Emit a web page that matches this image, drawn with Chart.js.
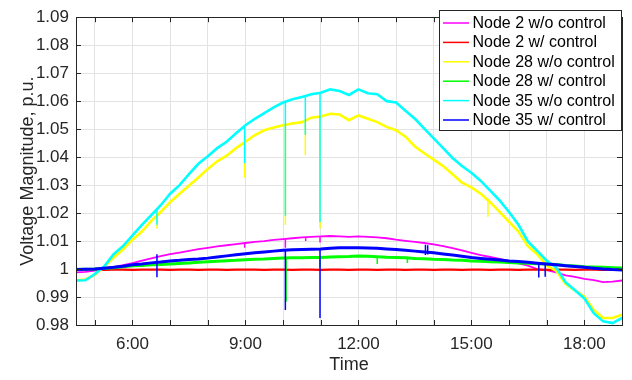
<!DOCTYPE html>
<html>
<head>
<meta charset="utf-8">
<script src="https://cdn.jsdelivr.net/npm/chart.js@4.4.1/dist/chart.umd.min.js"></script>
<style>
  html, body { margin: 0; padding: 0; background: #fff; }
  #wrap { width: 632px; height: 380px; position: relative; }
</style>
</head>
<body>
<div id="wrap"><canvas id="chart"></canvas></div>
<script>
// time of day in hours, every 15 minutes from 4:30 to 19:00
const hours = [
  4.5, 4.75, 5, 5.25, 5.5, 5.75, 6, 6.25, 6.5, 6.75, 7, 7.25, 7.5, 7.75, 8, 8.25, 8.5, 8.75,
  9, 9.25, 9.5, 9.75, 10, 10.25, 10.5, 10.75, 11, 11.25, 11.5, 11.75, 12, 12.25, 12.5, 12.75,
  13, 13.25, 13.5, 13.75, 14, 14.25, 14.5, 14.75, 15, 15.25, 15.5, 15.75, 16, 16.25, 16.5, 16.75,
  17, 17.25, 17.5, 17.75, 18, 18.25, 18.5, 18.75, 19
]

const node2NoCtrl = [
  0.9988, 0.9990, 0.9994, 1.0000, 1.0007, 1.0014, 1.0021, 1.0030, 1.0038, 1.0046, 1.0053, 1.0059,
  1.0065, 1.0071, 1.0076, 1.0081, 1.0085, 1.0089, 1.0093, 1.0097, 1.0100, 1.0104, 1.0107, 1.0110,
  1.0113, 1.0115, 1.0117, 1.0118, 1.0117, 1.0115, 1.0117, 1.0115, 1.0113, 1.0110, 1.0105, 1.0101,
  1.0097, 1.0093, 1.0088, 1.0082, 1.0075, 1.0067, 1.0058, 1.0050, 1.0043, 1.0036, 1.0029, 1.0020,
  1.0012, 1.0000, 0.9996, 0.9988, 0.9977, 0.9972, 0.9965, 0.9960, 0.9953, 0.9955, 0.9959
]
const node2Ctrl = [
  0.9998, 0.9998, 0.9998, 0.9997, 0.9998, 0.9998, 0.9997, 0.9998, 0.9998, 0.9998, 0.9997, 0.9998,
  0.9998, 0.9997, 0.9998, 0.9998, 0.9997, 0.9998, 0.9998, 0.9998, 0.9997, 0.9998, 0.9998, 0.9997,
  0.9998, 0.9998, 0.9997, 0.9998, 0.9998, 0.9997, 0.9998, 0.9998, 0.9997, 0.9998, 0.9998, 0.9997,
  0.9998, 0.9998, 0.9997, 0.9998, 0.9998, 0.9997, 0.9998, 0.9998, 0.9997, 0.9998, 0.9998, 0.9997,
  0.9998, 0.9998, 0.9997, 0.9998, 0.9998, 0.9997, 0.9998, 0.9998, 0.9997, 0.9998, 0.9998
]
const node28NoCtrl = [
  0.9960, 0.9962, 0.9980, 1.0008, 1.0041, 1.0070, 1.0105, 1.0134, 1.0172, 1.0204, 1.0239, 1.0269,
  1.0298, 1.0327, 1.0358, 1.0385, 1.0405, 1.0432, 1.0455, 1.0479, 1.0496, 1.0506, 1.0514, 1.0520,
  1.0525, 1.0541, 1.0545, 1.0555, 1.0552, 1.0532, 1.0549, 1.0537, 1.0525, 1.0508, 1.0496, 1.0473,
  1.0438, 1.0414, 1.0391, 1.0368, 1.0339, 1.0309, 1.0292, 1.0269, 1.0239, 1.0204, 1.0169, 1.0134,
  1.0082, 1.0053, 1.0012, 0.9994, 0.9947, 0.9924, 0.9901, 0.9854, 0.9825, 0.9825, 0.9837
]
const node28Ctrl = [
  0.9998, 0.9999, 1.0000, 1.0002, 1.0005, 1.0008, 1.0012, 1.0013, 1.0015, 1.0016, 1.0018, 1.0020,
  1.0022, 1.0024, 1.0026, 1.0028, 1.0030, 1.0031, 1.0033, 1.0035, 1.0036, 1.0038, 1.0039, 1.0040,
  1.0040, 1.0041, 1.0041, 1.0043, 1.0044, 1.0045, 1.0047, 1.0046, 1.0044, 1.0042, 1.0041, 1.0040,
  1.0038, 1.0037, 1.0035, 1.0034, 1.0032, 1.0031, 1.0029, 1.0028, 1.0026, 1.0025, 1.0023, 1.0022,
  1.0021, 1.0019, 1.0018, 1.0016, 1.0013, 1.0011, 1.0008, 1.0007, 1.0006, 1.0005, 1.0004
]
const node35NoCtrl = [
  0.9959, 0.9960, 0.9982, 1.0010, 1.0053, 1.0082, 1.0120, 1.0158, 1.0193, 1.0228, 1.0269, 1.0300,
  1.0339, 1.0376, 1.0403, 1.0432, 1.0455, 1.0485, 1.0514, 1.0537, 1.0557, 1.0578, 1.0595, 1.0607,
  1.0615, 1.0625, 1.0630, 1.0642, 1.0636, 1.0622, 1.0642, 1.0628, 1.0625, 1.0600, 1.0595, 1.0566,
  1.0537, 1.0502, 1.0467, 1.0432, 1.0397, 1.0368, 1.0344, 1.0315, 1.0280, 1.0245, 1.0204, 1.0158,
  1.0099, 1.0065, 1.0030, 1.0006, 0.9953, 0.9924, 0.9895, 0.9842, 0.9813, 0.9807, 0.9825
]
const node35Ctrl = [
  0.9998, 0.9999, 1.0000, 1.0003, 1.0006, 1.0010, 1.0015, 1.0018, 1.0022, 1.0025, 1.0029, 1.0031,
  1.0034, 1.0036, 1.0039, 1.0043, 1.0047, 1.0051, 1.0055, 1.0058, 1.0061, 1.0064, 1.0067, 1.0069,
  1.0070, 1.0071, 1.0072, 1.0074, 1.0076, 1.0076, 1.0076, 1.0075, 1.0074, 1.0072, 1.0070, 1.0067,
  1.0064, 1.0061, 1.0058, 1.0054, 1.0050, 1.0046, 1.0041, 1.0038, 1.0035, 1.0032, 1.0029, 1.0027,
  1.0024, 1.0021, 1.0018, 1.0015, 1.0012, 1.0009, 1.0006, 1.0003, 1.0000, 0.9998, 0.9997
]

// short dips: time, value before the dip, value at the bottom
const node2NoCtrlDips = { t: [8.98, 10.06, 10.6, 10.98], top: [1.0093, 1.0107, 1.0114, 1.0117], low: [1.0076, 1.0076, 1.0100, 1.0095] }
const node28NoCtrlDips = { t: [6.65, 8.98, 10.06, 10.59, 10.98, 15.44], top: [1.0200, 1.0455, 1.0514, 1.0525, 1.0545, 1.0245], low: [1.0145, 1.0326, 1.0157, 1.0407, 1.0145, 1.0187] }
const node28CtrlDips = { t: [10.08, 10.98, 12.5, 13.3], top: [1.0039, 1.0041, 1.0044, 1.0040], low: [0.9883, 1.0006, 1.0018, 1.0022] }
const node35NoCtrlDips = { t: [6.65, 8.98, 10.06, 10.59, 10.98], top: [1.0216, 1.0512, 1.0595, 1.0617, 1.0630], low: [1.0158, 1.0378, 1.0190, 1.0480, 1.0168] }
const node35CtrlDips = { t: [6.65, 10.06, 10.98, 13.78, 13.84, 16.79, 16.96], top: [1.0053, 1.0067, 1.0072, 1.0087, 1.0085, 1.0021, 1.0018], low: [0.9971, 0.9854, 0.9825, 1.0050, 1.0052, 0.9970, 0.9972] }

const seriesLabels = ['Node 2 w/o control', 'Node 2 w/ control', 'Node 28 w/o control', 'Node 28 w/ control', 'Node 35 w/o control', 'Node 35 w/ control']
const seriesColors = ['#ff00ff', '#ff0000', '#ffff00', '#00ff00', '#00ffff', '#0000ff']
const seriesValues = [node2NoCtrl, node2Ctrl, node28NoCtrl, node28Ctrl, node35NoCtrl, node35Ctrl]
const seriesDips = [node2NoCtrlDips, null, node28NoCtrlDips, node28CtrlDips, node35NoCtrlDips, node35CtrlDips]
const seriesWidths = [1.8, 2.2, 2.6, 3, 2.6, 3]

const FONT = "'Liberation Sans', Arial, Helvetica, sans-serif"
const AXIS_COLOR = '#262626'

const datasets = []
seriesValues.forEach((vals, i) => {
  // later series drawn on top, like the original plot
  datasets.push({
    label: seriesLabels[i],
    data: vals.map((v, k) => ({ x: hours[k], y: v })),
    borderColor: seriesColors[i],
    borderWidth: seriesWidths[i],
    pointRadius: 0,
    tension: 0,
    order: 2 * (5 - i) + 1,
  })
  const d = seriesDips[i]
  if (d) {
    datasets.push({
      label: seriesLabels[i] + ' dips',
      data: d.t.flatMap((t, k) => [{ x: t, y: d.top[k] }, { x: t, y: d.low[k] }, { x: t, y: null }]),
      borderColor: seriesColors[i],
      borderWidth: 1.5,
      pointRadius: 0,
      spanGaps: false,
      order: 2 * (5 - i),
    })
  }
})

// axes box with inward ticks + legend inside the plot
const frameAndLegend = {
  id: 'frameAndLegend',
  afterDraw(chart) {
    const { ctx, chartArea: a, scales } = chart
    ctx.save()
    ctx.strokeStyle = AXIS_COLOR
    ctx.lineWidth = 1
    ctx.strokeRect(Math.round(a.left) + 0.5, Math.round(a.top) + 0.5, Math.round(a.right - a.left), Math.round(a.bottom - a.top))
    ctx.beginPath()
    scales.x.ticks.forEach((t) => {
      const x = Math.round(scales.x.getPixelForValue(t.value)) + 0.5
      ctx.moveTo(x, a.bottom); ctx.lineTo(x, a.bottom - 5)
      ctx.moveTo(x, a.top); ctx.lineTo(x, a.top + 5)
    })
    scales.y.ticks.forEach((t) => {
      const y = Math.round(scales.y.getPixelForValue(t.value)) + 0.5
      ctx.moveTo(a.left, y); ctx.lineTo(a.left + 5, y)
      ctx.moveTo(a.right, y); ctx.lineTo(a.right - 5, y)
    })
    ctx.stroke()

    // legend
    const bx = 439.5, by = 10.5, bw = 182, bh = 120
    ctx.fillStyle = '#fff'
    ctx.fillRect(bx, by, bw, bh)
    ctx.strokeStyle = AXIS_COLOR
    ctx.strokeRect(bx, by, bw, bh)
    ctx.font = '16px ' + FONT
    ctx.textBaseline = 'middle'
    ctx.textAlign = 'left'
    seriesLabels.forEach((lab, i) => {
      const y = 23 + i * 19.4
      ctx.strokeStyle = seriesColors[i]
      ctx.lineWidth = 1.5
      ctx.beginPath()
      ctx.moveTo(443, y); ctx.lineTo(469, y)
      ctx.stroke()
      ctx.fillStyle = '#000'
      ctx.fillText(lab, 472.5, y + 0.5)
    })
    ctx.restore()
  },
}

new Chart(document.getElementById('chart'), {
  type: 'line',
  data: { datasets },
  options: {
    animation: false,
    responsive: true,
    maintainAspectRatio: false,
    layout: { padding: { left: 0, right: 10, top: 11, bottom: 0 } },
    plugins: { legend: { display: false }, tooltip: { enabled: false } },
    scales: {
      x: {
        type: 'linear',
        min: 4.5,
        max: 19,
        afterBuildTicks: (scale) => {
          const ticks = []
          for (let h = 5; h <= 19; h++) ticks.push({ value: h })
          scale.ticks = ticks
        },
        afterFit: (scale) => { scale.height = 55 },
        grid: { color: '#e3e3e3', drawTicks: false },
        border: { display: false },
        ticks: {
          autoSkip: false,
          maxRotation: 0,
          padding: 9,
          color: AXIS_COLOR,
          font: { family: FONT, size: 17 },
          callback: (v) => (v % 3 === 0 ? v + ':00' : ''),
        },
        title: {
          display: true,
          text: 'Time',
          color: AXIS_COLOR,
          font: { family: FONT, size: 18 },
          padding: { top: 0, bottom: 4 },
        },
      },
      y: {
        min: 0.98,
        max: 1.09,
        afterBuildTicks: (scale) => {
          const ticks = []
          for (let k = 98; k <= 109; k++) ticks.push({ value: k / 100 })
          scale.ticks = ticks
        },
        afterFit: (scale) => { scale.width = 76 },
        grid: { color: '#e3e3e3', drawTicks: false },
        border: { display: false },
        ticks: {
          padding: 7,
          color: AXIS_COLOR,
          font: { family: FONT, size: 17 },
          callback: (v) => String(Number(v.toFixed(2))),
        },
        title: {
          display: true,
          text: 'Voltage Magnitude, p.u.',
          color: AXIS_COLOR,
          font: { family: FONT, size: 18 },
          padding: { top: 17, bottom: 0 },
        },
      },
    },
  },
  plugins: [frameAndLegend],
})
</script>
</body>
</html>
